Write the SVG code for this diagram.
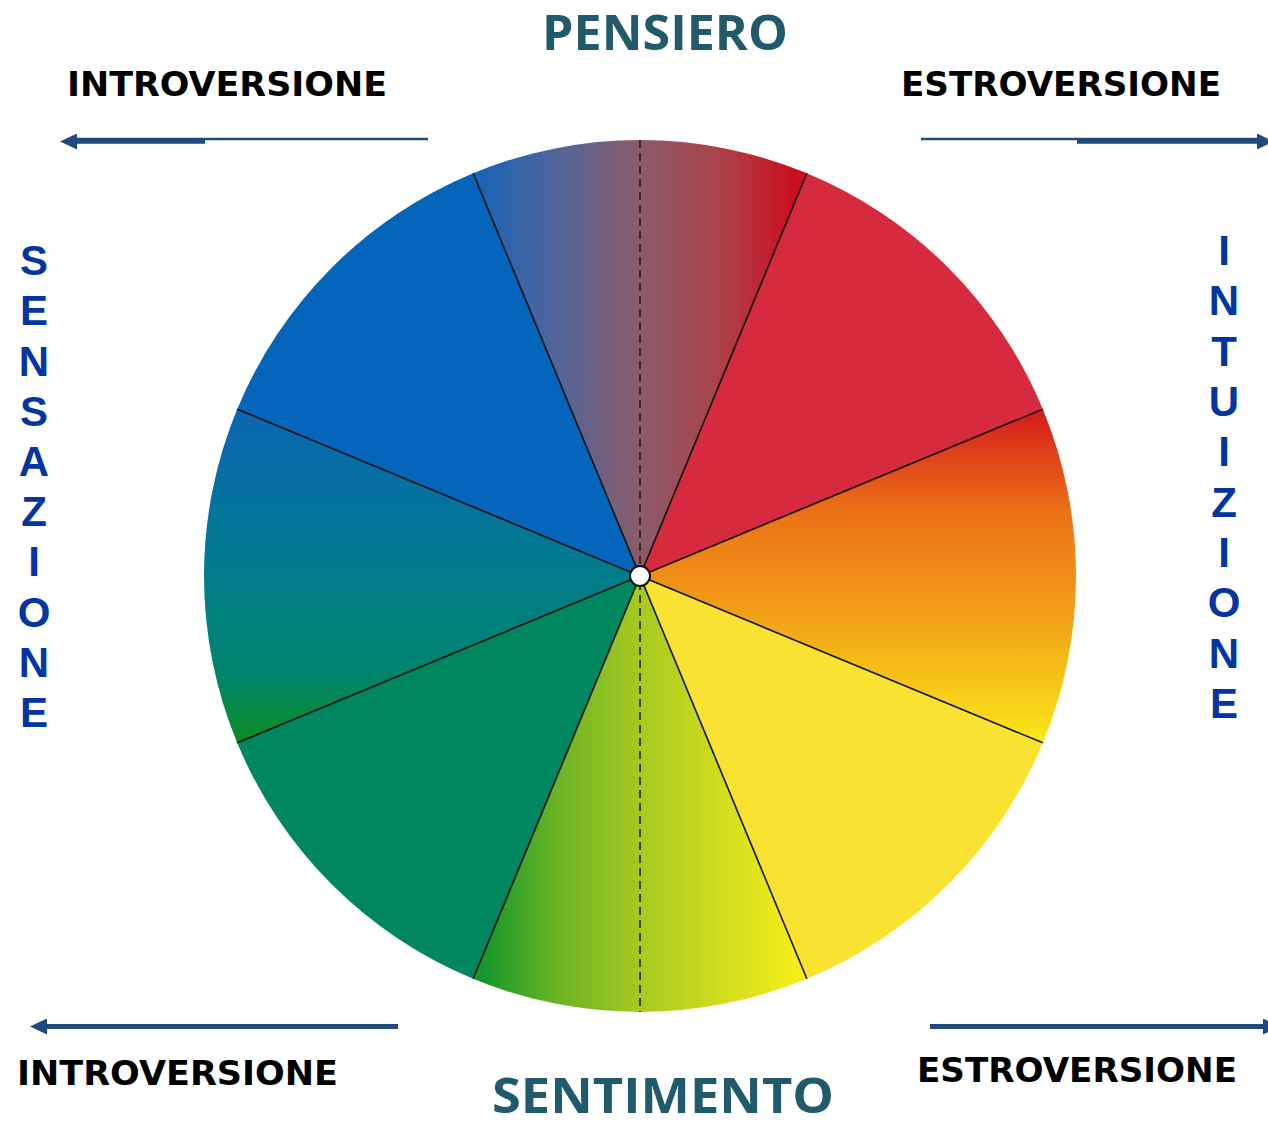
<svg xmlns="http://www.w3.org/2000/svg" width="1268" height="1124" viewBox="0 0 1268 1124">
<style>
.side{font-family:"DejaVu Sans","Verdana",sans-serif;font-weight:bold;font-size:34px;fill:#000}
.title{font-family:"Open Sans","Liberation Sans",sans-serif;font-weight:bold;font-size:49px;fill:#215A6A}
.vert{font-family:"Liberation Sans","Arial",sans-serif;font-weight:bold;font-size:42px;fill:#0535A0;text-anchor:middle}
.sep{stroke:#111;stroke-width:1.6;fill:none}
.arr{stroke:#1F4A7E;fill:none}
</style>
<defs>
<marker id="head" viewBox="0 0 17 16" markerWidth="17" markerHeight="16" refX="0" refY="8" orient="auto" markerUnits="userSpaceOnUse">
<path d="M0,0 L17,8 L0,16 Z" fill="#1F4A7E"/>
</marker>
<linearGradient id="gTop" gradientUnits="userSpaceOnUse" x1="473" y1="0" x2="807" y2="0">
<stop offset="0" stop-color="#1565B8"/>
<stop offset="0.25" stop-color="#52649A"/>
<stop offset="0.5" stop-color="#8A5C68"/>
<stop offset="0.75" stop-color="#AD4049"/>
<stop offset="0.96" stop-color="#CC0F1E"/>
</linearGradient>
<linearGradient id="gRight" gradientUnits="userSpaceOnUse" x1="0" y1="409" x2="0" y2="743">
<stop offset="0" stop-color="#D51A1C"/>
<stop offset="0.3" stop-color="#EA7017"/>
<stop offset="0.65" stop-color="#F2A616"/>
<stop offset="1" stop-color="#F9E91A"/>
</linearGradient>
<linearGradient id="gBottom" gradientUnits="userSpaceOnUse" x1="473" y1="0" x2="807" y2="0">
<stop offset="0.03" stop-color="#14982A"/>
<stop offset="0.25" stop-color="#6AB324"/>
<stop offset="0.5" stop-color="#A6C920"/>
<stop offset="0.75" stop-color="#D2DD1C"/>
<stop offset="0.97" stop-color="#F4EE18"/>
</linearGradient>
<linearGradient id="gLeft" gradientUnits="userSpaceOnUse" x1="0" y1="409" x2="0" y2="743">
<stop offset="0" stop-color="#0A66B4"/>
<stop offset="0.5" stop-color="#007D8A"/>
<stop offset="0.8" stop-color="#00856C"/>
<stop offset="1" stop-color="#0A8C22"/>
</linearGradient>
</defs>

<g id="wheel">
<path id="sector-top" d="M640,576 L473.15,173.19 A436,436 0 0 1 806.85,173.19 Z" fill="url(#gTop)"/>
<path id="sector-top-right" d="M640,576 L806.85,173.19 A436,436 0 0 1 1042.81,409.15 Z" fill="#D62A3F"/>
<path id="sector-right" d="M640,576 L1042.81,409.15 A436,436 0 0 1 1042.81,742.85 Z" fill="url(#gRight)"/>
<path id="sector-bottom-right" d="M640,576 L1042.81,742.85 A436,436 0 0 1 806.85,978.81 Z" fill="#F9E231"/>
<path id="sector-bottom" d="M640,576 L806.85,978.81 A436,436 0 0 1 473.15,978.81 Z" fill="url(#gBottom)"/>
<path id="sector-bottom-left" d="M640,576 L473.15,978.81 A436,436 0 0 1 237.19,742.85 Z" fill="#00875F"/>
<path id="sector-left" d="M640,576 L237.19,742.85 A436,436 0 0 1 237.19,409.15 Z" fill="url(#gLeft)"/>
<path id="sector-top-left" d="M640,576 L237.19,409.15 A436,436 0 0 1 473.15,173.19 Z" fill="#0465BA"/>
<g class="sep">
<line x1="640" y1="576" x2="806.85" y2="173.19"/>
<line x1="640" y1="576" x2="1042.81" y2="409.15"/>
<line x1="640" y1="576" x2="1042.81" y2="742.85"/>
<line x1="640" y1="576" x2="806.85" y2="978.81"/>
<line x1="640" y1="576" x2="473.15" y2="978.81"/>
<line x1="640" y1="576" x2="237.19" y2="742.85"/>
<line x1="640" y1="576" x2="237.19" y2="409.15"/>
<line x1="640" y1="576" x2="473.15" y2="173.19"/>
<line x1="640" y1="140" x2="640" y2="1012" stroke-dasharray="8,5" stroke="#2a1a1a"/>
</g>
<circle id="hub" cx="640" cy="576" r="10" fill="#fff" stroke="#111" stroke-width="2"/>
</g>

<g id="connectors">
<line class="arr" x1="428" y1="139" x2="77" y2="139" stroke-width="2.5"/>
<line class="arr" x1="205" y1="141.5" x2="77" y2="141.5" stroke-width="4.5" marker-end="url(#head)"/>
<line class="arr" x1="921" y1="139" x2="1257" y2="139" stroke-width="2.5"/>
<line class="arr" x1="1077" y1="141.5" x2="1257" y2="141.5" stroke-width="4.5" marker-end="url(#head)"/>
<line class="arr" x1="398" y1="1026.5" x2="47" y2="1026.5" stroke-width="5" marker-end="url(#head)"/>
<line class="arr" x1="930" y1="1026.5" x2="1263" y2="1026.5" stroke-width="5" marker-end="url(#head)"/>
</g>

<g id="labels">
<text id="pensiero" class="title" x="542" y="50" textLength="246" lengthAdjust="spacingAndGlyphs">PENSIERO</text>
<text id="sentimento" class="title" x="492" y="1113" font-size="47" textLength="342" lengthAdjust="spacingAndGlyphs">SENTIMENTO</text>
<text id="intro-top" class="side" x="67" y="96" textLength="320" lengthAdjust="spacingAndGlyphs">INTROVERSIONE</text>
<text id="estro-top" class="side" x="901" y="96" textLength="320" lengthAdjust="spacingAndGlyphs">ESTROVERSIONE</text>
<text id="intro-bottom" class="side" x="17" y="1085" textLength="321" lengthAdjust="spacingAndGlyphs">INTROVERSIONE</text>
<text id="estro-bottom" class="side" x="917" y="1082" textLength="320" lengthAdjust="spacingAndGlyphs">ESTROVERSIONE</text>
<g id="sensazione" class="vert">
<text x="34" y="275">S</text>
<text x="34" y="325">E</text>
<text x="34" y="376">N</text>
<text x="34" y="426">S</text>
<text x="34" y="476">A</text>
<text x="34" y="526">Z</text>
<text x="34" y="576">I</text>
<text x="34" y="627">O</text>
<text x="34" y="677">N</text>
<text x="34" y="727">E</text>
</g>
<g id="intuizione" class="vert">
<text x="1224" y="265">I</text>
<text x="1224" y="315">N</text>
<text x="1224" y="366">T</text>
<text x="1224" y="416">U</text>
<text x="1224" y="466">I</text>
<text x="1224" y="517">Z</text>
<text x="1224" y="567">I</text>
<text x="1224" y="617">O</text>
<text x="1224" y="668">N</text>
<text x="1224" y="718">E</text>
</g>
</g>
</svg>
